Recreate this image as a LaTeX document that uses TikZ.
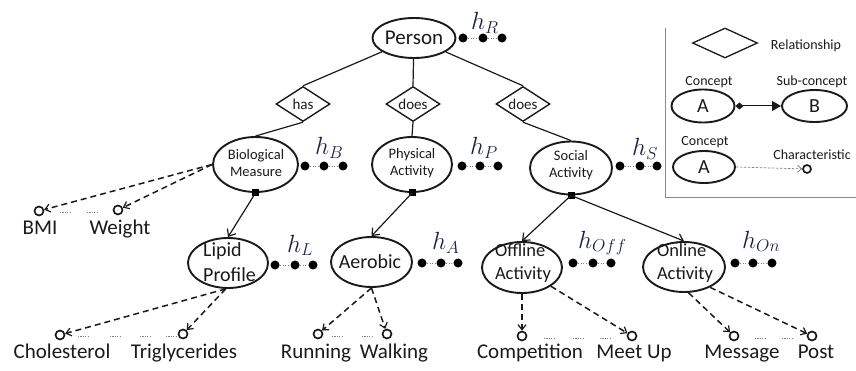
\documentclass[tikz,border=0pt]{standalone}
\usepackage{fontspec}
\setmainfont{Carlito}
\usetikzlibrary{shapes.geometric,arrows.meta}
\definecolor{ink}{HTML}{1A1A1A}
\definecolor{hcol}{HTML}{1E2244}
\definecolor{boxgray}{HTML}{8A8A8A}
\begin{document}
\begin{tikzpicture}[x=1pt,y=-1pt,
  concept/.style={ellipse,draw=ink,line width=1.9pt,inner sep=0pt},
  rel/.style={diamond,draw=ink,line width=1.4pt,inner sep=0pt,aspect=1.6,
    minimum width=54pt,minimum height=35pt,font=\fontsize{15}{17}\selectfont,text=ink},
  ctext/.style={inner sep=0pt,text=ink},
  small/.style={ctext,align=center,font=\fontsize{14.5}{17}\selectfont},
  big/.style={ctext,align=left,font=\fontsize{20}{25}\selectfont},
  mid/.style={ctext,align=left,font=\fontsize{18.5}{23}\selectfont},
  lbl/.style={inner sep=0pt,anchor=base,text=ink,font=\fontsize{21}{24}\selectfont},
  hlab/.style={inner sep=0pt,anchor=base west,text=hcol,font=\fontsize{24}{26}\selectfont},
  hdot/.style={circle,fill=black,minimum size=9pt,inner sep=0pt},
  hline/.style={gray,line width=0.8pt,dotted},
  sq/.style={rectangle,fill=black,minimum size=7pt,inner sep=0pt},
  conn/.style={ink,line width=1.2pt},
  subarrow/.style={ink,line width=1.2pt,-{Straight Barb[length=6pt,width=10pt,line width=1.2pt]}},
  charc/.style={circle,draw=ink,line width=1.7pt,minimum size=9pt,inner sep=0pt},
  chararrow/.style={ink,line width=1.5pt,dash pattern=on 6pt off 4pt,-{Straight Barb[length=5pt,width=8pt,line width=1.2pt]}},
  ell/.style={gray,line width=0.9pt,dash pattern=on 1.2pt off 1.2pt},
  leg/.style={inner sep=0pt,text=ink,font=\fontsize{14}{16}\selectfont},
  legA/.style={inner sep=0pt,text=ink,font=\fontsize{20}{22}\selectfont}
]
\useasboundingbox (0,0) rectangle (856,371);

% ---------- concepts ----------
\node[concept,minimum width=83pt,minimum height=40pt] (person) at (414,38) {};
\node[ctext,font=\fontsize{21}{24}\selectfont] (persont) at (person) {Person};

\node[rel] (has) at (303,104) {has};
\node[rel] (does1) at (413,104) {does};
\node[rel] (does2) at (523,104) {does};

\node[concept,minimum width=85pt,minimum height=55pt] (bio) at (255.5,164.5) {};
\node[small] (biot) at (256,163) {Biological\\Measure};
\node[concept,minimum width=80pt,minimum height=55pt] (phys) at (412,164.5) {};
\node[small] (physt) at (412,163) {Physical\\Activity};
\node[concept,minimum width=82pt,minimum height=53pt] (soc) at (571,168) {};
\node[small] (soct) at (571,165) {Social\\Activity};

\node[concept,minimum width=80pt,minimum height=50pt] (lipid) at (228,263) {};
\node[big] (lipidt) at (229.5,262) {Lipid\\Profile};
\node[concept,minimum width=81pt,minimum height=50pt] (aero) at (371.5,262) {};
\node[ctext,font=\fontsize{20}{24}\selectfont] (aerot) at (370,262) {Aerobic};
\node[concept,minimum width=80pt,minimum height=51pt] (off) at (522,267.5) {};
\node[mid] (offt) at (523,263) {Offline\\Activity};
\node[concept,minimum width=82pt,minimum height=50pt] (on) at (684,267) {};
\node[mid] (ont) at (685,263) {Online\\Activity};

% ---------- relation connectors ----------
\draw[conn] (person) -- (has.north);
\draw[conn] (person) -- (does1.north);
\draw[conn] (person) -- (does2.north);
\draw[conn] (has.south) -- (bio.north);
\draw[conn] (does1.south) -- (phys.north);
\draw[conn] (does2.south) -- (soc.north);

% ---------- sub-concept arrows ----------
\node[sq] (biosq) at (bio.south) {};
\node[sq] (physsq) at (phys.south) {};
\node[sq] (socsq) at (soc.south) {};
\draw[subarrow] (biosq.center) -- (lipid.north);
\draw[subarrow] (physsq.center) -- (aero.north);
\draw[subarrow] (socsq.center) -- (off.north);
\draw[subarrow] (socsq.center) -- (on.north);

% ---------- hidden vectors ----------
\node[hlab] (hR) at (471,30) {$h_R$};
\node[hdot] (r1) at (463,38) {}; \node[hdot] (r2) at (483,38) {}; \node[hdot] (r3) at (502,38) {};
\draw[hline] (r1) -- (r2) -- (r3);
\node[hlab] (hB) at (315,155) {$h_B$};
\node[hdot] (b1) at (305,166) {}; \node[hdot] (b2) at (324,166) {}; \node[hdot] (b3) at (343,166) {};
\draw[hline] (b1) -- (b2) -- (b3);
\node[hlab] (hP) at (470,155) {$h_P$};
\node[hdot] (p1) at (462,166) {}; \node[hdot] (p2) at (480,166) {}; \node[hdot] (p3) at (498,166) {};
\draw[hline] (p1) -- (p2) -- (p3);
\node[hlab] (hS) at (632,156) {$h_S$};
\node[hdot] (s1) at (620,166) {}; \node[hdot] (s2) at (640,166) {}; \node[hdot] (s3) at (657,166) {};
\draw[hline] (s1) -- (s2) -- (s3);
\node[hlab] (hL) at (287,252) {$h_L$};
\node[hdot] (l1) at (275,265) {}; \node[hdot] (l2) at (295,265) {}; \node[hdot] (l3) at (313,265) {};
\draw[hline] (l1) -- (l2) -- (l3);
\node[hlab] (hA) at (432,250) {$h_A$};
\node[hdot] (a1) at (422,263) {}; \node[hdot] (a2) at (441,263) {}; \node[hdot] (a3) at (458,263) {};
\draw[hline] (a1) -- (a2) -- (a3);
\node[hlab] (hOff) at (578,248) {$h_{Off}$};
\node[hdot] (o1) at (573,263) {}; \node[hdot] (o2) at (593,263) {}; \node[hdot] (o3) at (611,263) {};
\draw[hline] (o1) -- (o2) -- (o3);
\node[hlab] (hOn) at (742,248) {$h_{On}$};
\node[hdot] (n1) at (735,263) {}; \node[hdot] (n2) at (753,263) {}; \node[hdot] (n3) at (772,263) {};
\draw[hline] (n1) -- (n2) -- (n3);

% ---------- characteristics ----------
\node[charc] (bmi) at (39,211) {};
\node[charc] (weight) at (118,210) {};
\draw[chararrow] (bio.west) -- (bmi);
\draw[chararrow] (bio.west) -- (weight);
\draw[ell] (60,212) -- (71,212); \draw[ell] (87,212) -- (98,212);
\node[lbl] (bmit) at (40,235) {BMI};
\node[lbl] (weightt) at (120,235) {Weight};

\node[charc] (chol) at (60,335) {};
\node[charc] (trig) at (183,334) {};
\draw[chararrow] (lipid.-95) -- (chol);
\draw[chararrow] (lipid.-95) -- (trig);
\draw[ell] (78,336) -- (88,336); \draw[ell] (110,336) -- (120,336);
\draw[ell] (140,336) -- (151,336); \draw[ell] (166,336) -- (176,336);
\node[lbl] (cholt) at (62,358) {Cholesterol};
\node[lbl] (trigt) at (184,358) {Triglycerides};

\node[charc] (run) at (318,334) {};
\node[charc] (walk) at (387,334) {};
\draw[chararrow] (aero.south) -- (run);
\draw[chararrow] (aero.south) -- (walk);
\draw[ell] (332,336) -- (343,336); \draw[ell] (362,336) -- (373,336);
\node[lbl] (runt) at (316,358) {Running};
\node[lbl] (walkt) at (394,358) {Walking};

\node[charc] (comp) at (522,336) {};
\node[charc] (meet) at (632,336) {};
\draw[chararrow] (off.south) -- (comp);
\draw[chararrow] (off.-33) -- (meet);
\draw[ell] (544,338) -- (556,338); \draw[ell] (573,338) -- (584,338); \draw[ell] (600,338) -- (611,338);
\node[lbl] (compt) at (530,358) {Competition};
\node[lbl] (meett) at (634,358) {Meet Up};

\node[charc] (msg) at (734,336) {};
\node[charc] (post) at (812,336) {};
\draw[chararrow] (on.-80) -- (msg);
\draw[chararrow] (on.-38) -- (post);
\draw[ell] (755,338) -- (766,338); \draw[ell] (782,338) -- (793,338);
\node[lbl] (msgt) at (742,358) {Message};
\node[lbl] (postt) at (816,358) {Post};

% ---------- legend ----------
\draw[boxgray,line width=1pt] (665,28) -- (665,198) -- (856,198);
\node[diamond,draw=ink,line width=1.3pt,inner sep=0pt,aspect=2.2,minimum width=65pt,minimum height=30pt] (legrel) at (725,43) {};
\node[leg] (legrelt) at (806,46) {Relationship};
\node[leg] (legc1) at (709,82) {Concept};
\node[concept,minimum width=63pt,minimum height=33pt] (legA1) at (703,106) {};
\node[legA] (legA1t) at (703,106) {A};
\node[leg] (legsub) at (812,82) {Sub-concept};
\node[concept,minimum width=65pt,minimum height=32pt] (legB) at (814.5,106) {};
\node[legA] (legBt) at (814.5,106) {B};
\draw[ink,line width=1pt,{Diamond[length=8pt,width=7pt]}-{Triangle[length=9pt,width=10pt]}] (legA1.east) -- (legB.west);
\node[leg] (legc2) at (705,142) {Concept};
\node[concept,minimum width=62pt,minimum height=32pt] (legA2) at (704,167) {};
\node[legA] (legA2t) at (704,167) {A};
\node[leg] (legch) at (812,155) {Characteristic};
\node[charc,minimum size=8pt] (legcirc) at (807,169) {};
\draw[gray,line width=0.7pt,dash pattern=on 2.5pt off 1.5pt,-{Straight Barb[length=4pt,width=7pt,line width=0.8pt]}] (legA2.east) -- (legcirc);
\end{tikzpicture}
\end{document}
